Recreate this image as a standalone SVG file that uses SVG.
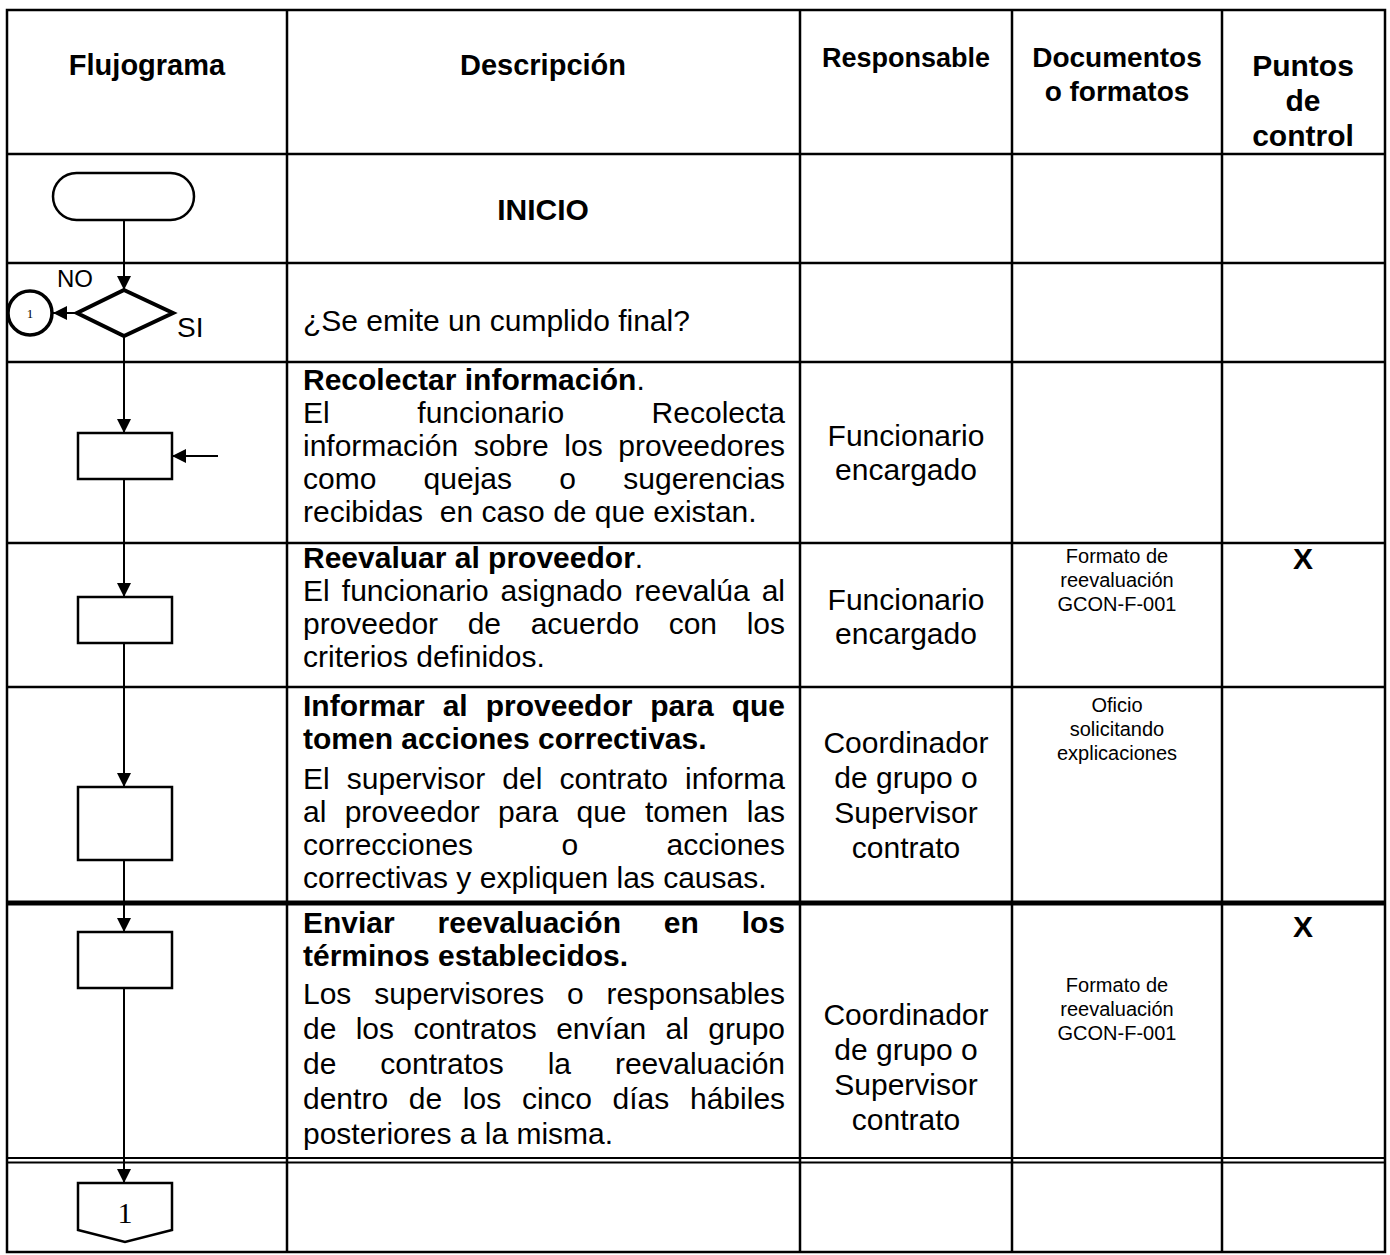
<svg xmlns="http://www.w3.org/2000/svg" width="1390" height="1255" viewBox="0 0 1390 1255">
<style>
text{font-family:"Liberation Sans",Arial,sans-serif;fill:#000}
.h{font-weight:bold;font-size:29px;text-anchor:middle}
.d{font-size:30px}
.b{font-size:30px;font-weight:bold}
.r{font-size:30px;text-anchor:middle}
.doc{font-size:20px;text-anchor:middle}
.x{font-size:30px;font-weight:bold;text-anchor:middle}
.grid{stroke:#000;stroke-width:2.5;fill:none}
.shape{fill:#fff;stroke:#000;stroke-width:2.5}
.conn{stroke:#000;stroke-width:2;fill:none;marker-end:url(#ah)}
</style>
<defs>
<marker id="ah" markerUnits="userSpaceOnUse" markerWidth="14" markerHeight="14" refX="14" refY="7" orient="auto">
<path d="M0,0 L14,7 L0,14 z" fill="#000"/>
</marker>
</defs>
<rect width="1390" height="1255" fill="#fff"/>

<g id="table" class="grid">
<rect x="7" y="10" width="1378" height="1242"/>
<line x1="287" y1="10" x2="287" y2="1252"/>
<line x1="800" y1="10" x2="800" y2="1252"/>
<line x1="1012" y1="10" x2="1012" y2="1252"/>
<line x1="1222" y1="10" x2="1222" y2="1252"/>
<line x1="7" y1="154" x2="1385" y2="154"/>
<line x1="7" y1="263" x2="1385" y2="263"/>
<line x1="7" y1="362" x2="1385" y2="362"/>
<line x1="7" y1="543" x2="1385" y2="543"/>
<line x1="7" y1="687" x2="1385" y2="687"/>
<line x1="7" y1="903" x2="1385" y2="903" stroke-width="5"/>
<line x1="7" y1="1158" x2="1385" y2="1158" stroke-width="1.8"/>
<line x1="7" y1="1162.5" x2="1385" y2="1162.5" stroke-width="1.8"/>
</g>

<g id="header">
<text class="h" x="147" y="75">Flujograma</text>
<text class="h" x="543" y="75">Descripción</text>
<text class="h" x="906" y="67" style="font-size:27px">Responsable</text>
<text class="h" x="1117" y="67" style="font-size:28px">Documentos</text>
<text class="h" x="1117" y="101" style="font-size:28px">o formatos</text>
<text class="h" x="1303" y="76" style="font-size:30px">Puntos</text>
<text class="h" x="1303" y="111" style="font-size:30px">de</text>
<text class="h" x="1303" y="146" style="font-size:30px">control</text>
</g>

<g id="row-inicio">
<text class="b" x="543" y="220" text-anchor="middle">INICIO</text>
</g>

<g id="row-decision">
<text class="d" x="303" y="331">¿Se emite un cumplido final?</text>
</g>

<g id="row-recolectar">
<text class="d" x="303" y="390"><tspan font-weight="bold">Recolectar información</tspan>.</text>
<text class="d" y="423"><tspan x="303">El</tspan><tspan x="417.3">funcionario</tspan><tspan x="651.6">Recolecta</tspan></text>
<text class="d" y="456"><tspan x="303">información</tspan><tspan x="473.7">sobre</tspan><tspan x="564.3">los</tspan><tspan x="618.3">proveedores</tspan></text>
<text class="d" y="489"><tspan x="303">como</tspan><tspan x="423.6">quejas</tspan><tspan x="559.3">o</tspan><tspan x="623.3">sugerencias</tspan></text>
<text class="d" x="303" y="522" xml:space="preserve">recibidas  en caso de que existan.</text>
<text class="r" x="906" y="446">Funcionario</text>
<text class="r" x="906" y="480">encargado</text>
</g>

<g id="row-reevaluar">
<text class="d" x="303" y="568"><tspan font-weight="bold">Reevaluar al proveedor</tspan>.</text>
<text class="d" y="601"><tspan x="303">El</tspan><tspan x="341.8">funcionario</tspan><tspan x="500.6">asignado</tspan><tspan x="634.5">reevalúa</tspan><tspan x="761.7">al</tspan></text>
<text class="d" y="634"><tspan x="303">proveedor</tspan><tspan x="467.7">de</tspan><tspan x="530.7">acuerdo</tspan><tspan x="668.7">con</tspan><tspan x="746.7">los</tspan></text>
<text class="d" x="303" y="667">criterios definidos.</text>
<text class="r" x="906" y="610">Funcionario</text>
<text class="r" x="906" y="644">encargado</text>
<text class="doc" x="1117" y="563">Formato de</text>
<text class="doc" x="1117" y="587">reevaluación</text>
<text class="doc" x="1117" y="611">GCON-F-001</text>
<text class="x" x="1303" y="569">X</text>
</g>

<g id="row-informar">
<text class="b" y="716"><tspan x="303">Informar</tspan><tspan x="442.7">al</tspan><tspan x="485.7">proveedor</tspan><tspan x="650.3">para</tspan><tspan x="731.7">que</tspan></text>
<text class="b" x="303" y="749">tomen acciones correctivas.</text>
<text class="d" y="789"><tspan x="303">El</tspan><tspan x="346.8">supervisor</tspan><tspan x="502.3">del</tspan><tspan x="559.5">contrato</tspan><tspan x="685">informa</tspan></text>
<text class="d" y="822"><tspan x="303">al</tspan><tspan x="344.7">proveedor</tspan><tspan x="498.1">para</tspan><tspan x="576.5">que</tspan><tspan x="644.9">tomen</tspan><tspan x="746.7">las</tspan></text>
<text class="d" y="855"><tspan x="303">correcciones</tspan><tspan x="561.5">o</tspan><tspan x="666.6">acciones</tspan></text>
<text class="d" x="303" y="888">correctivas y expliquen las causas.</text>
<text class="r" x="906" y="753">Coordinador</text>
<text class="r" x="906" y="788">de grupo o</text>
<text class="r" x="906" y="823">Supervisor</text>
<text class="r" x="906" y="858">contrato</text>
<text class="doc" x="1117" y="712">Oficio</text>
<text class="doc" x="1117" y="736">solicitando</text>
<text class="doc" x="1117" y="760">explicaciones</text>
</g>

<g id="row-enviar">
<text class="b" y="933"><tspan x="303">Enviar</tspan><tspan x="437.6">reevaluación</tspan><tspan x="663.8">en</tspan><tspan x="741.7">los</tspan></text>
<text class="b" x="303" y="966">términos establecidos.</text>
<text class="d" y="1004"><tspan x="303">Los</tspan><tspan x="374.2">supervisores</tspan><tspan x="567.1">o</tspan><tspan x="606.6">responsables</tspan></text>
<text class="d" y="1039"><tspan x="303">de</tspan><tspan x="355.7">los</tspan><tspan x="413.4">contratos</tspan><tspan x="556.2">envían</tspan><tspan x="665.6">al</tspan><tspan x="708.3">grupo</tspan></text>
<text class="d" y="1074"><tspan x="303">de</tspan><tspan x="380.3">contratos</tspan><tspan x="547.7">la</tspan><tspan x="614.9">reevaluación</tspan></text>
<text class="d" y="1109"><tspan x="303">dentro</tspan><tspan x="408.8">de</tspan><tspan x="462.8">los</tspan><tspan x="521.9">cinco</tspan><tspan x="612.6">días</tspan><tspan x="690">hábiles</tspan></text>
<text class="d" x="303" y="1144">posteriores a la misma.</text>
<text class="r" x="906" y="1025">Coordinador</text>
<text class="r" x="906" y="1060">de grupo o</text>
<text class="r" x="906" y="1095">Supervisor</text>
<text class="r" x="906" y="1130">contrato</text>
<text class="doc" x="1117" y="992">Formato de</text>
<text class="doc" x="1117" y="1016">reevaluación</text>
<text class="doc" x="1117" y="1040">GCON-F-001</text>
<text class="x" x="1303" y="937">X</text>
</g>

<g id="connectors">
<line class="conn" x1="124" y1="220" x2="124" y2="290"/>
<line class="conn" x1="77" y1="313" x2="53" y2="313"/>
<line class="conn" x1="124" y1="336" x2="124" y2="433"/>
<line class="conn" x1="218" y1="456" x2="172" y2="456"/>
<line class="conn" x1="124" y1="479" x2="124" y2="597"/>
<line class="conn" x1="124" y1="643" x2="124" y2="787"/>
<line class="conn" x1="124" y1="860" x2="124" y2="932"/>
<line class="conn" x1="124" y1="988" x2="124" y2="1183"/>
<text x="57" y="287" style="font-size:24px">NO</text>
<text x="177" y="337" style="font-size:28px">SI</text>
</g>

<g id="node-start">
<rect class="shape" x="53" y="173" width="141" height="47" rx="23.5" stroke-width="2"/>
</g>
<g id="node-decision">
<polygon points="124,290 173,313 124,336 77,313" fill="#fff" stroke="#000" stroke-width="4"/>
</g>
<g id="node-connector-1">
<circle cx="30" cy="313" r="22" fill="#fff" stroke="#000" stroke-width="3.5"/>
<text x="30" y="318" text-anchor="middle" style="font-size:13px;font-family:'Liberation Serif',serif">1</text>
</g>
<g id="node-recolectar"><rect class="shape" x="78" y="433" width="94" height="46"/></g>
<g id="node-reevaluar"><rect class="shape" x="78" y="597" width="94" height="46"/></g>
<g id="node-informar"><rect class="shape" x="78" y="787" width="94" height="73"/></g>
<g id="node-enviar"><rect class="shape" x="78" y="932" width="94" height="56"/></g>
<g id="node-offpage-1">
<path class="shape" d="M78,1183 L172,1183 L172,1230 L125,1242 L78,1230 Z" stroke-width="2"/>
<text x="125" y="1223" text-anchor="middle" style="font-size:30px;font-family:'Liberation Serif',serif">1</text>
</g>
</svg>
